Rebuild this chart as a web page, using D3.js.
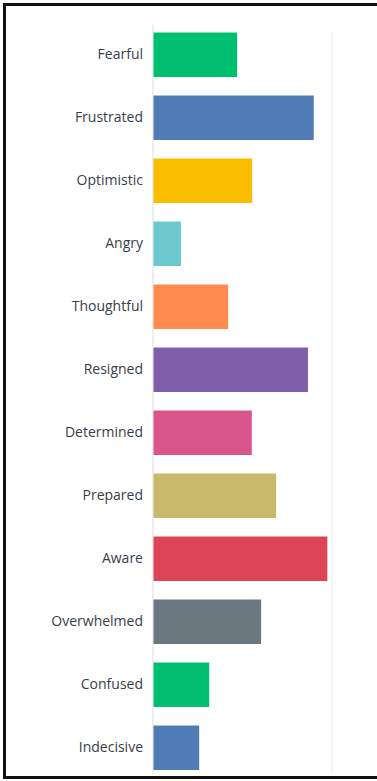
<!DOCTYPE html>
<html>
<head>
<meta charset="utf-8">
<script src="https://cdn.jsdelivr.net/npm/d3@7"></script>
<style>
  html, body { margin: 0; padding: 0; background: #fff; }
  svg { display: block; }
</style>
</head>
<body>
<svg id="chart" width="377" height="781"></svg>
<script>
const categories = ["Fearful","Frustrated","Optimistic","Angry","Thoughtful","Resigned","Determined","Prepared","Aware","Overwhelmed","Confused","Indecisive"];
const values = [23.5, 44.9, 27.7, 7.8, 21.0, 43.3, 27.6, 34.4, 48.7, 30.2, 15.7, 12.9];
const colors = ["#00BF6F","#507CB6","#F9BE00","#6BC8CD","#FF8B4F","#7F5FA9","#D9558C","#C9B96B","#DD4556","#6B787F","#00BF6F","#507CB6"];
const gridTicks = [50];

const svg = d3.select("#chart");
const W = 377, H = 781;

// frame
svg.append("rect").attr("x", 4.5).attr("y", 4.5).attr("width", W + 10).attr("height", 773)
  .attr("fill", "none").attr("stroke", "#111").attr("stroke-width", 3);

const x = d3.scaleLinear().domain([0, 50]).range([153, 332]);
const y = d3.scaleBand().domain(categories).range([23.25, 779.25])
  .paddingInner(0.294).paddingOuter(0.147);

// gridlines
svg.append("g").selectAll("line").data(gridTicks).join("line")
  .attr("x1", d => x(d)).attr("x2", d => x(d))
  .attr("y1", 32).attr("y2", 773)
  .attr("stroke", "#ececec").attr("stroke-width", 1);

// baseline
svg.append("line").attr("x1", x(0)).attr("x2", x(0)).attr("y1", 25).attr("y2", 775)
  .attr("stroke", "#dcdcdc").attr("stroke-width", 1);

// bars
svg.append("g").selectAll("rect").data(categories).join("rect")
  .attr("x", x(0) + 0.5)
  .attr("y", d => y(d))
  .attr("width", (d, i) => x(values[i]) - x(0) - 0.5)
  .attr("height", y.bandwidth())
  .attr("fill", (d, i) => colors[i]);

// labels
const axis = svg.append("g").attr("transform", `translate(${x(0)},0)`)
  .call(d3.axisLeft(y).tickSize(0).tickPadding(10));
axis.select(".domain").remove();
axis.selectAll("text")
  .attr("font-family", "'Open Sans', sans-serif")
  .attr("font-size", 14)
  .attr("fill", "#383d4a");
</script>
</body>
</html>
